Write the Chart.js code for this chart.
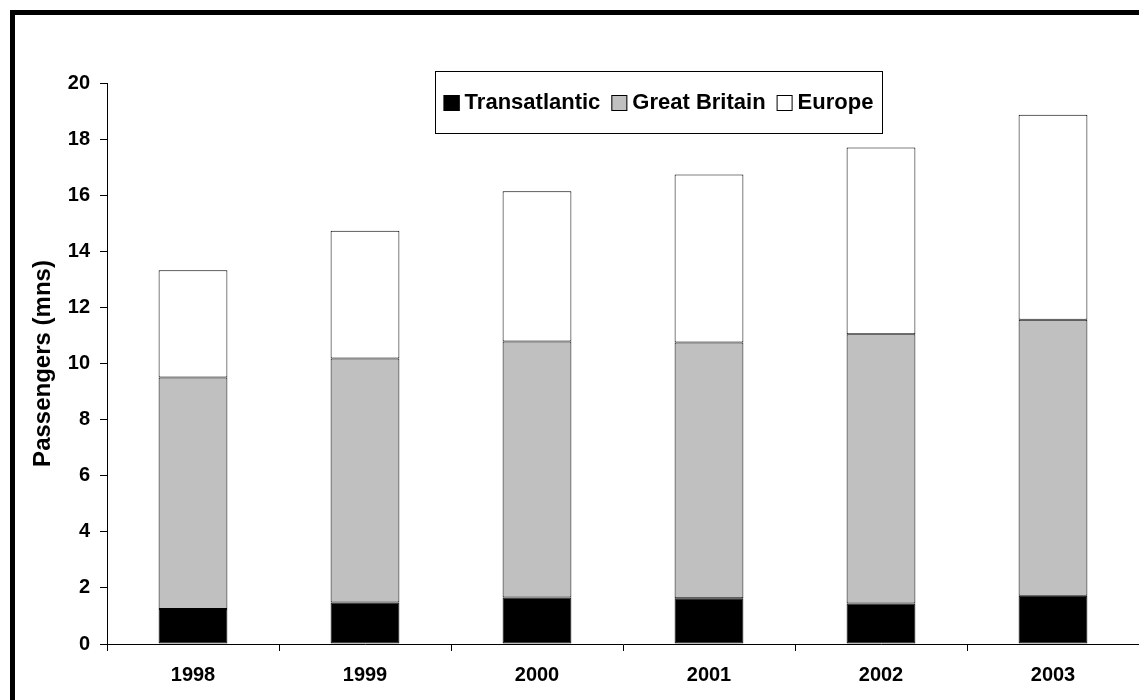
<!DOCTYPE html>
<html>
<head>
<meta charset="utf-8">
<script src="https://cdn.jsdelivr.net/npm/chart.js@4.4.1/dist/chart.umd.min.js"></script>
<style>
  html, body { margin: 0; padding: 0; background: #fff; }
  #wrap { width: 1139px; height: 700px; }
</style>
</head>
<body>
<div id="wrap"><canvas id="chart1" width="1139" height="700"></canvas></div>
<script>
// passengers per year, millions
var years = ['1998', '1999', '2000', '2001', '2002', '2003'];
var transatlantic = [1.25, 1.48, 1.66, 1.63, 1.44, 1.72];
var greatBritain = [8.25, 8.70, 9.12, 9.12, 9.60, 9.84];
var europe = [3.82, 4.55, 5.36, 5.99, 6.66, 7.31];
var seriesNames = ['Transatlantic', 'Great Britain', 'Europe'];
var yMin = 0, yMax = 20, yStep = 2;

var FONT = '"Liberation Sans", Arial, sans-serif';

// thick frame along the top and left edges
var framePlugin = {
  id: 'frame',
  beforeDraw: function (chart) {
    var c = chart.ctx;
    c.save();
    c.fillStyle = '#fff';
    c.fillRect(0, 0, chart.width, chart.height);
    c.fillStyle = '#000';
    c.fillRect(10, 10, chart.width - 10, 5);
    c.fillRect(10, 10, 5, chart.height - 10);
    c.restore();
  }
};

// boxed legend sitting over the top of the plot
var boxLegend = {
  id: 'boxLegend',
  afterDraw: function (chart) {
    var c = chart.ctx;
    var box = { x: 435, y: 71, w: 447, h: 62 };
    c.save();
    c.fillStyle = '#fff';
    c.fillRect(box.x, box.y, box.w, box.h);
    c.strokeStyle = '#000';
    c.lineWidth = 1;
    c.strokeRect(box.x + 0.5, box.y + 0.5, box.w, box.h);

    c.font = 'bold 22px ' + FONT;
    c.textBaseline = 'middle';
    var sq = 16, gap = 5, spacing = 11;
    var items = chart.data.datasets.map(function (ds) {
      return { text: ds.label, fill: ds.backgroundColor, w: c.measureText(ds.label).width };
    });
    var total = 0;
    items.forEach(function (it, i) {
      total += sq + gap + it.w + (i < items.length - 1 ? spacing : 0);
    });
    var x = box.x + (box.w - total) / 2;
    var cy = box.y + box.h / 2 + 1;
    items.forEach(function (it) {
      c.fillStyle = it.fill;
      c.fillRect(x, cy - sq / 2, sq, sq);
      c.strokeStyle = '#000';
      c.strokeRect(x + 0.5, cy - sq / 2 + 0.5, sq - 1, sq - 1);
      x += sq + gap;
      c.fillStyle = '#000';
      c.fillText(it.text, x, cy);
      x += it.w + spacing;
    });
    c.restore();
  }
};

function barSet(label, data, color) {
  return {
    label: label,
    data: data,
    backgroundColor: color,
    borderColor: '#000',
    borderWidth: 1,
    borderSkipped: false,
    barPercentage: 1,
    categoryPercentage: 0.4
  };
}

var ctx = document.getElementById('chart1').getContext('2d');
var chart = new Chart(ctx, {
  type: 'bar',
  data: {
    labels: years,
    datasets: [
      barSet(seriesNames[0], transatlantic, '#000000'),
      barSet(seriesNames[1], greatBritain, '#c0c0c0'),
      barSet(seriesNames[2], europe, '#ffffff')
    ]
  },
  options: {
    responsive: false,
    animation: false,
    devicePixelRatio: 1,
    layout: { padding: { top: 83, left: 15, right: 0, bottom: 0 } },
    plugins: {
      legend: { display: false },
      tooltip: { enabled: false }
    },
    scales: {
      x: {
        stacked: true,
        grid: { drawOnChartArea: false, tickLength: 7, color: '#000', offset: true },
        border: { color: '#000', width: 1 },
        ticks: {
          color: '#000',
          font: { family: FONT, size: 20, weight: 'bold' },
          padding: 12,
          maxRotation: 0
        },
        afterFit: function (s) { s.height = 56; }
      },
      y: {
        stacked: true,
        min: yMin,
        max: yMax,
        grid: { drawOnChartArea: false, tickLength: 7, color: '#000' },
        border: { color: '#000', width: 1 },
        ticks: {
          stepSize: yStep,
          color: '#000',
          font: { family: FONT, size: 20, weight: 'bold' },
          padding: 10
        },
        title: {
          display: true,
          text: 'Passengers (mns)',
          color: '#000',
          font: { family: FONT, size: 24, weight: 'bold' },
          padding: { top: 14, bottom: 0 }
        },
        afterFit: function (s) { s.width = 92; }
      }
    }
  },
  plugins: [framePlugin, boxLegend]
});
</script>
</body>
</html>
